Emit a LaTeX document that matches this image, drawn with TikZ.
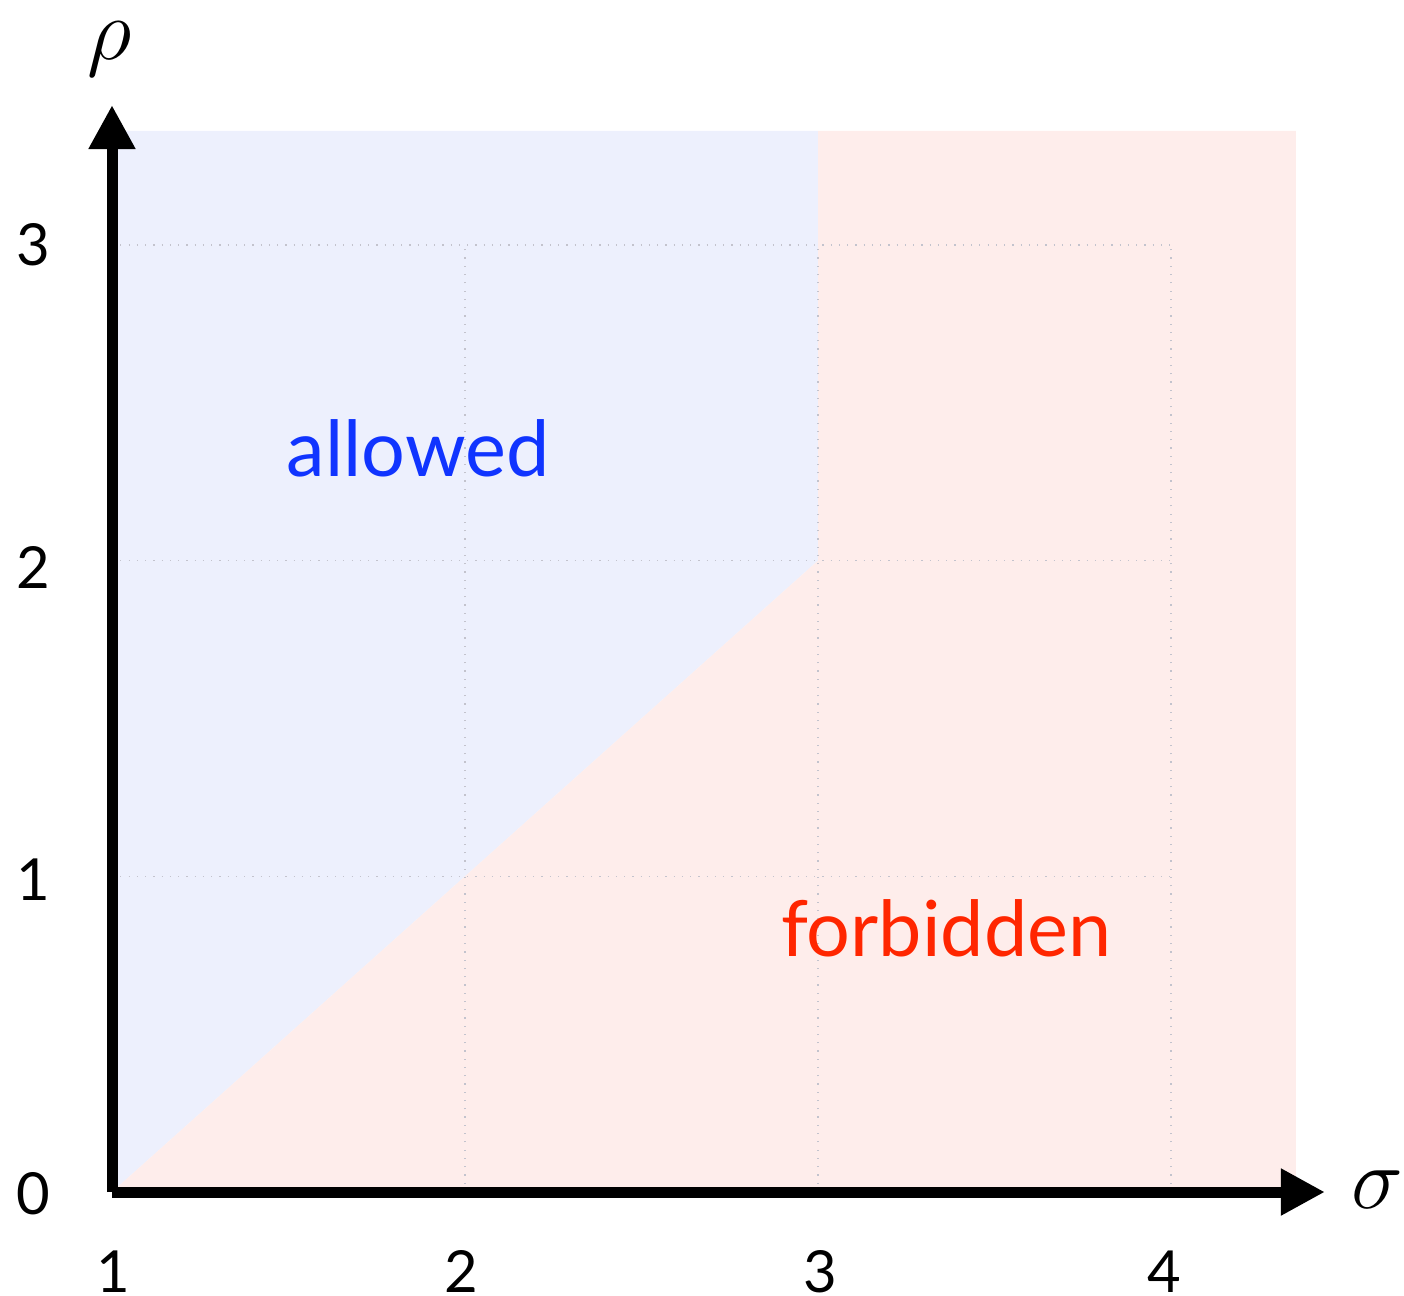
\documentclass[tikz,border=0pt]{standalone}
\usepackage{fontspec}
\setmainfont{Lato}
\usetikzlibrary{arrows.meta}
\definecolor{allowbg}{RGB}{237,240,253}
\definecolor{forbidbg}{RGB}{254,237,235}
\definecolor{allowtxt}{RGB}{16,52,255}
\definecolor{forbidtxt}{RGB}{255,38,0}
\definecolor{gridc}{RGB}{195,195,205}
\tikzset{
  axisline/.style={line width=0.11cm, -{Triangle[length=0.44cm,width=0.44cm]}},
  gridline/.style={draw=gridc, line width=0.35pt, dotted},
  ticklbl/.style={font=\fontsize{16.5}{20}\selectfont, inner sep=0pt},
  mathlbl/.style={font=\fontsize{34}{40}\selectfont, inner sep=0pt},
  regionlbl/.style={font=\fontsize{22}{26}\selectfont, inner sep=0pt}
}
\begin{document}
\begin{tikzpicture}[x=3.53cm,y=3.157cm]
\useasboundingbox (-1.12cm,-1.03cm) rectangle (12.92cm,11.92cm);
% regions
\fill[allowbg] (0,0) -- (0,3.361) -- (2,3.361) -- (2,2) -- cycle;
\fill[forbidbg] (0,0) -- (2,2) -- (2,3.361) -- (3.354,3.361) -- (3.354,0) -- cycle;
% grid
\foreach \i in {1,2,3} {
  \draw[gridline] (\i,0) -- (\i,3);
  \draw[gridline] (0,\i) -- (3,\i);
}
% axes
\coordinate (O) at (0,0);
\coordinate (xend) at (3.436,0);
\coordinate (yend) at (0,3.443);
\draw[axisline] (O) -- (xend);
\draw[axisline] (O) -- (yend);
% axis labels
\node[mathlbl] (sig) at (3.585,0.006) {$\sigma$};
\node[mathlbl] (rho) at (-0.006,3.62) {$\rho$};
% tick labels
\node[ticklbl] (x1) at (0.003,-0.253) {1};
\node[ticklbl] (x2) at (0.989,-0.253) {2};
\node[ticklbl] (x3) at (2.006,-0.253) {3};
\node[ticklbl] (x4) at (2.980,-0.253) {4};
\node[ticklbl] (y0) at (-0.224,-0.006) {0};
\node[ticklbl] (y1) at (-0.224,0.988) {1};
\node[ticklbl] (y2) at (-0.224,1.977) {2};
\node[ticklbl] (y3) at (-0.224,3.000) {3};
% region labels
\node[regionlbl, text=allowtxt] (allowed) at (0.867,2.357) {allowed};
\node[regionlbl, text=forbidtxt] (forbidden) at (2.363,0.836) {forbidden};
\end{tikzpicture}
\end{document}
